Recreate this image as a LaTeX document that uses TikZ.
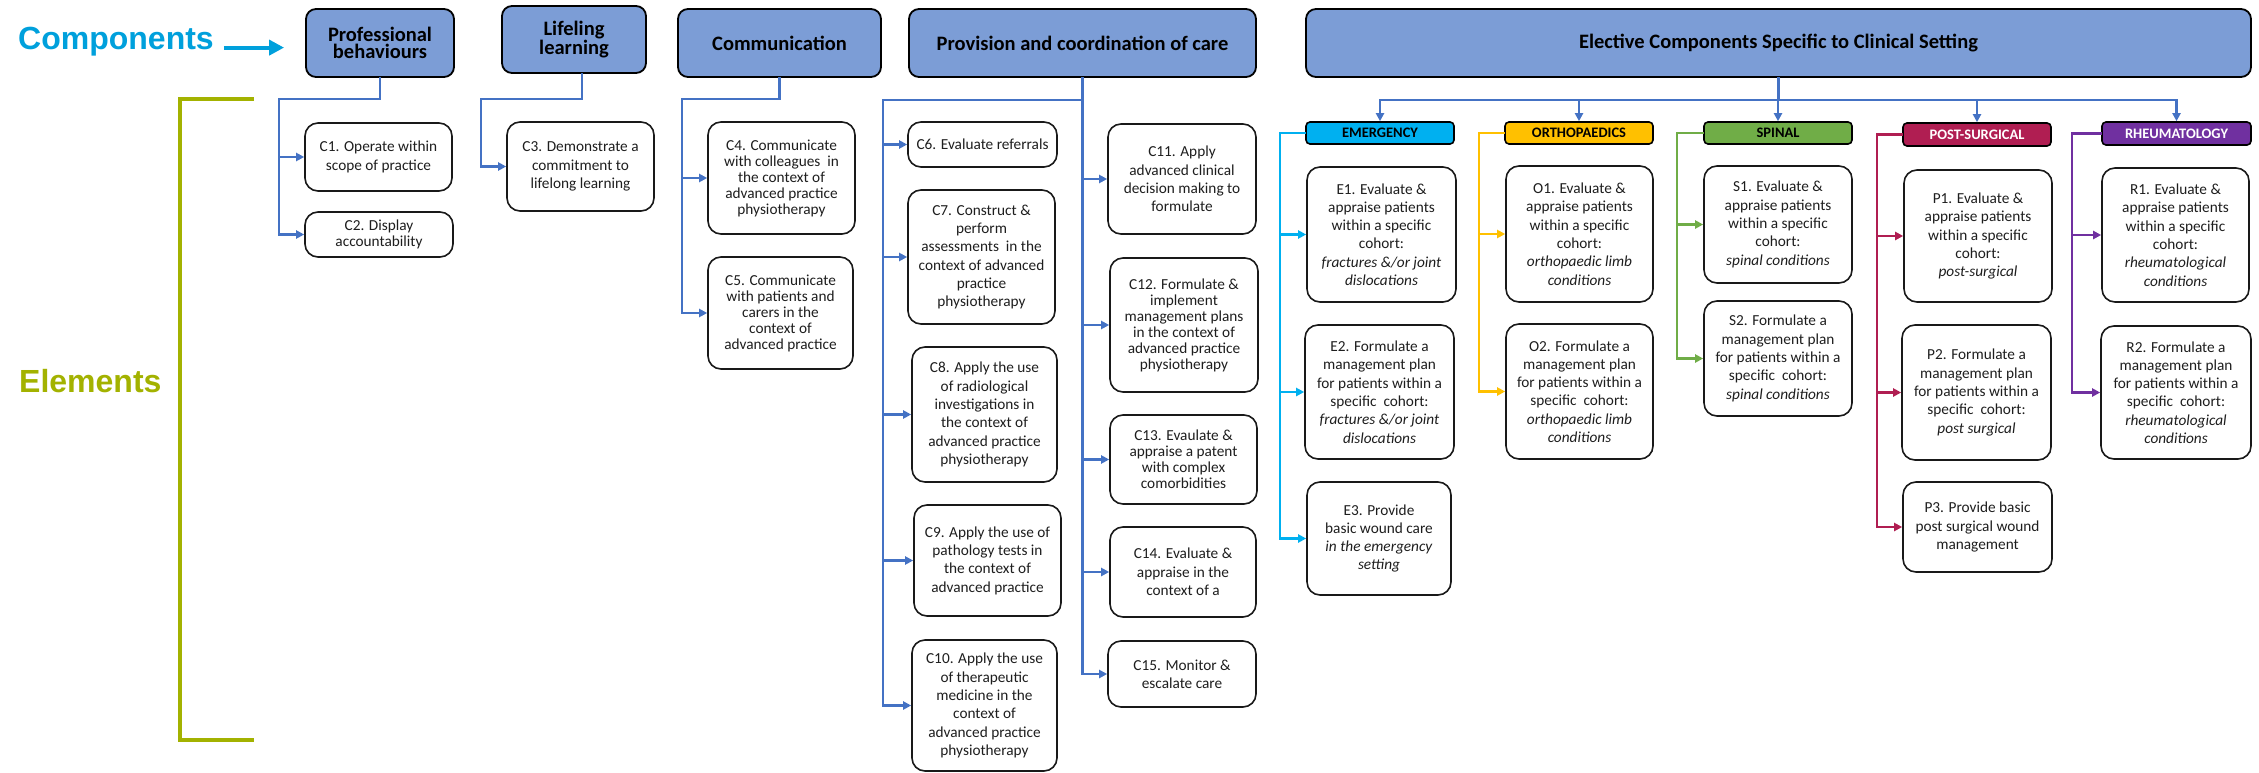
\documentclass[tikz,border=0pt]{standalone}
\usepackage{fontspec}
\setmainfont{Carlito}
\newfontfamily\arialfont{Liberation Sans}
\usetikzlibrary{arrows.meta}
\definecolor{hdrblue}{RGB}{124,157,214}
\definecolor{connblue}{RGB}{68,114,196}
\definecolor{compcol}{RGB}{0,160,220}
\definecolor{elemcol}{RGB}{163,178,0}
\definecolor{emcol}{RGB}{0,176,240}
\definecolor{orcol}{RGB}{255,192,0}
\definecolor{spcol}{RGB}{112,173,71}
\definecolor{pscol}{RGB}{176,30,82}
\definecolor{rhcol}{RGB}{112,48,160}
\definecolor{txt}{RGB}{30,30,30}
\begin{document}
\begin{tikzpicture}[x=1pt,y=-1pt,
  sz/.style 2 args={minimum width=#1pt, minimum height=#2pt},
  hdr/.style={draw=black, line width=1.8pt, fill=hdrblue, rounded corners=10pt, inner sep=0pt, align=center, font=\fontsize{20.5}{16.5}\selectfont\bfseries},
  elem/.style={draw=black!90, line width=1.6pt, fill=white, rounded corners=13pt, inner sep=0pt, align=center, text=txt, font=\fontsize{15.3}{18.3}\selectfont},
  tight/.style={font=\fontsize{15.3}{16}\selectfont},
  sub/.style={draw=black, line width=1.6pt, rounded corners=4pt, inner sep=0pt, font=\fontsize{14.5}{16}\selectfont\bfseries},
  cc/.style={line width=2.4pt, draw=#1, line cap=rect},
  ca/.style={cc=#1, -{Triangle[length=8pt,width=8pt]}},
  comparrow/.style={line width=4pt, draw=compcol, -{Triangle[length=15pt,width=15pt]}},
]
\useasboundingbox (0,0) rectangle (2259,773);

% side labels
\node[font=\fontsize{32}{36}\arialfont\bfseries, text=compcol, anchor=base west, inner sep=0pt] (comp) at (18,50) {Components};
\node[font=\fontsize{32}{36}\arialfont\bfseries, text=elemcol, anchor=base west, inner sep=0pt] (elm) at (19,392) {Elements};
\coordinate (br1) at (254,99);
\coordinate (br2) at (180,99);
\coordinate (br3) at (180,740);
\coordinate (br4) at (254,740);
\draw[line width=4.5pt, elemcol] (br1) -- (br2) -- (br3) -- (br4);

% headers
\node[hdr, sz={148}{68}] (PB) at (380,43) {Professional\\behaviours};
\node[hdr, sz={144}{67}] (LL) at (574,39.5) {Lifeling\\learning};
\node[hdr, sz={203}{68}] (COM) at (779.5,43) {Communication};
\node[hdr, sz={347}{68}] (PRO) at (1082.5,43) {Provision and coordination of care};
\node[hdr, sz={945}{68}] (ELE) at (1778.5,43) {Elective Components Specific to Clinical Setting};

\draw[comparrow, shorten <=10pt, shorten >=21pt] (comp.mid east) -- (comp.mid east -| PB.west);

% core elements
\node[elem, sz={147}{68}] (C1) at (378.5,157) {C1. Operate within\\scope of practice};
\node[elem, tight, sz={148}{45}] (C2) at (379,234.5) {C2. Display\\accountability};
\node[elem, sz={147}{89}] (C3) at (580.5,166.5) {C3. Demonstrate a\\commitment to\\lifelong learning};
\node[elem, tight, sz={147}{112}] (C4) at (781.5,178) {C4. Communicate\\with colleagues\ \ in\\the context of\\advanced practice\\physiotherapy};
\node[elem, tight, sz={145}{112}] (C5) at (780.5,313) {C5. Communicate\\with patients and\\carers in the\\context of\\advanced practice};
\node[elem, sz={149}{45}] (C6) at (982.5,144.5) {C6. Evaluate referrals};
\node[elem, sz={147}{134}] (C7) at (981.5,257) {C7. Construct \&\\perform\\assessments\ \ in the\\context of advanced\\practice\\physiotherapy};
\node[elem, sz={145}{135}] (C8) at (984.5,414.5) {C8. Apply the use\\of radiological\\investigations in\\the context of\\advanced practice\\physiotherapy};
\node[elem, sz={147}{111}] (C9) at (987.5,560.5) {C9. Apply the use of\\pathology tests in\\the context of\\advanced practice};
\node[elem, sz={145}{131}] (C10) at (984.5,705.5) {C10. Apply the use\\of therapeutic\\medicine in the\\context of\\advanced practice\\physiotherapy};
\node[elem, sz={148}{110}] (C11) at (1182,179) {C11. Apply\\advanced clinical\\decision making to\\formulate};
\node[elem, tight, sz={148}{134}] (C12) at (1184,325) {C12. Formulate \&\\implement\\management plans\\in the context of\\advanced practice\\physiotherapy};
\node[elem, tight, sz={147}{89}] (C13) at (1183.5,459.5) {C13. Evaulate \&\\appraise a patent\\with complex\\comorbidities};
\node[elem, sz={146}{90}] (C14) at (1183,572) {C14. Evaluate \&\\appraise in the\\context of a};
\node[elem, sz={148}{66}] (C15) at (1182,674) {C15. Monitor \&\\escalate care};

% core connectors
\coordinate (pbbus) at (279,99);
\draw[cc=connblue] (PB.south) |- (pbbus);
\draw[ca=connblue] (pbbus) |- (C1.west);
\draw[ca=connblue] (pbbus) |- (C2.west);
\coordinate (llbus) at (481,99);
\draw[cc=connblue] ([xshift=8pt]LL.south) |- (llbus);
\draw[ca=connblue] (llbus) |- (C3.west);
\coordinate (combus) at (682,99);
\draw[cc=connblue] (COM.south) |- (combus);
\draw[ca=connblue] (combus) |- (C4.west);
\draw[ca=connblue] (combus) |- (C5.west);
\coordinate (prbus) at (883,100);
\draw[cc=connblue] (PRO.south) |- (prbus);
\foreach \n in {C6,C7,C8,C9,C10} \draw[ca=connblue] (prbus) |- (\n.west);
\foreach \n in {C11,C12,C13,C14,C15} \draw[ca=connblue] (PRO.south) |- (\n.west);

% elective sub-headers
\node[sub, fill=emcol, sz={148}{22}] (EM) at (1380,133) {EMERGENCY};
\node[sub, fill=orcol, sz={148}{22}] (OR) at (1579,133) {ORTHOPAEDICS};
\node[sub, fill=spcol, sz={148}{22}] (SP) at (1778,133) {SPINAL};
\node[sub, fill=pscol, text=white, sz={148}{23}] (PS) at (1977,134.5) {POST-SURGICAL};
\node[sub, fill=rhcol, text=white, sz={149}{23}] (RH) at (2176.5,133.5) {RHEUMATOLOGY};
\foreach \n in {EM,OR,SP,PS,RH} \draw[ca=connblue] (ELE.south) -- ++(0,22) -| (\n.north);

% elective elements
\node[elem, sz={149}{135}] (E1) at (1381.5,234.5) {E1. Evaluate \&\\appraise patients\\within a specific\\cohort:\\\textit{fractures \&/or joint}\\\textit{dislocations}};
\node[elem, sz={149}{134}] (E2) at (1379.5,392) {E2. Formulate a\\management plan\\for patients within a\\specific\ \ cohort:\\\textit{fractures \&/or joint}\\\textit{dislocations}};
\node[elem, sz={144}{113}] (E3) at (1379,538.5) {E3. Provide\\basic wound care\\\textit{in the emergency}\\\textit{setting}};
\node[elem, sz={147}{136}] (O1) at (1579.5,234) {O1. Evaluate \&\\appraise patients\\within a specific\\cohort:\\\textit{orthopaedic limb}\\\textit{conditions}};
\node[elem, sz={147}{135}] (O2) at (1579.5,391.5) {O2. Formulate a\\management plan\\for patients within a\\specific\ \ cohort:\\\textit{orthopaedic limb}\\\textit{conditions}};
\node[elem, sz={148}{117}] (S1) at (1778,224.5) {S1. Evaluate \&\\appraise patients\\within a specific\\cohort:\\\textit{spinal conditions}};
\node[elem, sz={148}{115}] (S2) at (1778,358.5) {S2. Formulate a\\management plan\\for patients within a\\specific\ \ cohort:\\\textit{spinal conditions}};
\node[elem, sz={148}{132}] (P1) at (1978,236) {P1. Evaluate \&\\appraise patients\\within a specific\\cohort:\\\textit{post-surgical}};
\node[elem, sz={149}{135}] (P2) at (1976.5,392.5) {P2. Formulate a\\management plan\\for patients within a\\specific\ \ cohort:\\\textit{post surgical}};
\node[elem, sz={149}{90}] (P3) at (1977.5,527) {P3. Provide basic\\post surgical wound\\management};
\node[elem, sz={147}{134}] (R1) at (2175.5,235) {R1. Evaluate \&\\appraise patients\\within a specific\\cohort:\\\textit{rheumatological}\\\textit{conditions}};
\node[elem, sz={150}{133}] (R2) at (2176,392.5) {R2. Formulate a\\management plan\\for patients within a\\specific\ \ cohort:\\\textit{rheumatological}\\\textit{conditions}};

% elective connectors
\coordinate (embus) at ([xshift=-25pt]EM.west);
\draw[cc=emcol] (EM.west) -- (embus);
\foreach \n in {E1,E2,E3} \draw[ca=emcol] (embus) |- (\n.west);
\coordinate (orbus) at ([xshift=-25pt]OR.west);
\draw[cc=orcol] (OR.west) -- (orbus);
\foreach \n in {O1,O2} \draw[ca=orcol] (orbus) |- (\n.west);
\coordinate (spbus) at ([xshift=-26pt]SP.west);
\draw[cc=spcol] (SP.west) -- (spbus);
\foreach \n in {S1,S2} \draw[ca=spcol] (spbus) |- (\n.west);
\coordinate (psbus) at ([xshift=-25pt]PS.west);
\draw[cc=pscol] (PS.west) -- (psbus);
\foreach \n in {P1,P2,P3} \draw[ca=pscol] (psbus) |- (\n.west);
\coordinate (rhbus) at ([xshift=-29pt]RH.west);
\draw[cc=rhcol] (RH.west) -- (rhbus);
\foreach \n in {R1,R2} \draw[ca=rhcol] (rhbus) |- (\n.west);
\end{tikzpicture}
\end{document}
